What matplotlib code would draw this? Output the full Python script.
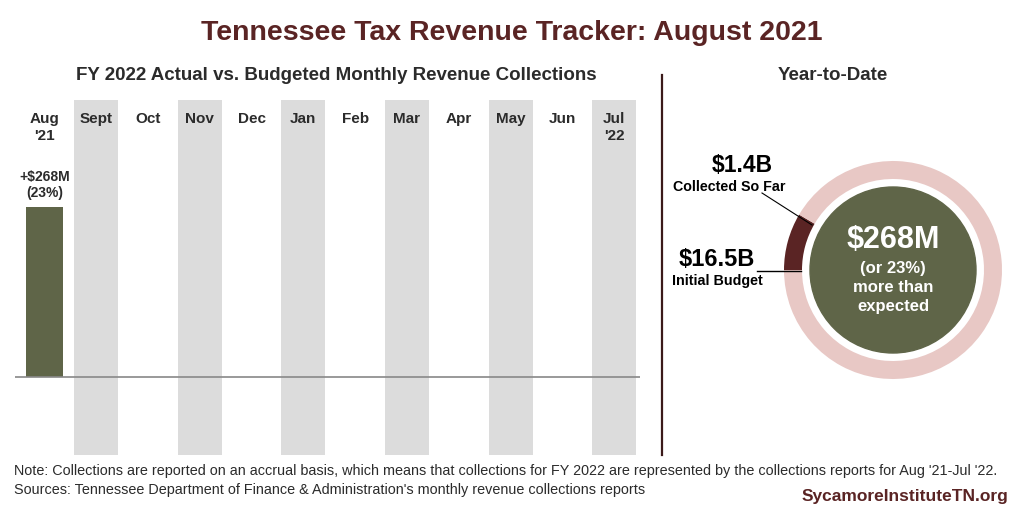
import matplotlib.pyplot as plt
import numpy as np
from matplotlib.patches import Circle

plt.rcParams['font.family'] = ['Liberation Sans', 'DejaVu Sans']

# monthly data (only August reported so far)
months = ["Aug\n'21", "Sept", "Oct", "Nov", "Dec", "Jan", "Feb", "Mar",
          "Apr", "May", "Jun", "Jul\n'22"]
pct_above_budget = [23]
bar_labels = ["+$268M\n(23%)"]

# year-to-date figures
collected = 1.4
budget = 16.5
over_amount = "$268M"
over_pct = 23

maroon = "#5a2424"
green = "#5f6548"
pink = "#e8c8c5"
band = "#dcdcdc"
dark = "#2b2b2b"

W, H = 1024, 512
fig = plt.figure(figsize=(W / 100, H / 100), dpi=100)


def fx(x):
    return x / W


def fy(y):
    return 1 - y / H


fig.text(fx(512), fy(33), "Tennessee Tax Revenue Tracker: August 2021",
         ha="center", va="center", fontsize=20.5, fontweight="bold",
         color=maroon)
fig.text(fx(336), fy(76), "FY 2022 Actual vs. Budgeted Monthly Revenue Collections",
         ha="center", va="center", fontsize=13.5, fontweight="bold",
         color=dark)
fig.text(fx(833), fy(76), "Year-to-Date", ha="center", va="center",
         fontsize=13.5, fontweight="bold", color=dark)

# divider
fig.add_artist(plt.Line2D([fx(662), fx(662)], [fy(75), fy(455)],
                          color="#3b1a1a", lw=1.6))

# ---- monthly bar chart ----
ax = fig.add_axes([fx(15), fy(455), 625 / W, 355 / H])
n = len(months)
idx = np.arange(n)
for i in idx[1::2]:
    ax.axvspan(i - 0.425, i + 0.425, color=band, lw=0, zorder=0)
ax.bar(idx[:len(pct_above_budget)], pct_above_budget, width=0.72,
       color=green, zorder=2)
ax.axhline(0, color="#888888", lw=1.2, zorder=3)
ax.set_xlim(-0.57, 11.5)
ax.set_ylim(-10.55, 37.5)
for i, m in enumerate(months):
    ax.text(i, 35.9, m, ha="center", va="top", fontsize=11,
            fontweight="bold", color=dark, linespacing=1.3)
for i, (v, lab) in enumerate(zip(pct_above_budget, bar_labels)):
    ax.text(i, v + 0.9, lab, ha="center", va="bottom", fontsize=10,
            fontweight="bold", color=dark, linespacing=1.2)
ax.axis("off")

# ---- year-to-date donut ----
cx, cy, R = 893, 270, 109
dax = fig.add_axes([fx(cx - 120), fy(cy + 120), 240 / W, 240 / H])
dax.pie([collected, budget - collected], colors=[maroon, pink],
        startangle=180, counterclock=False, radius=1,
        wedgeprops=dict(width=18 / R, linewidth=0))
dax.add_patch(Circle((0, 0), 83 / R, color=green, zorder=3))
dax.set_xlim(-120 / R, 120 / R)
dax.set_ylim(-120 / R, 120 / R)
dax.set_aspect("equal")
dax.axis("off")

# leader lines
dax.plot([(757 - cx) / R, (801 - cx) / R], [(cy - 271) / R] * 2,
         color="black", lw=1, clip_on=False, zorder=4)
dax.plot([(762 - cx) / R, (812 - cx) / R], [(cy - 193) / R, (cy - 225) / R],
         color="black", lw=0.8, clip_on=False, zorder=4)

fig.text(fx(742), fy(165), "$%.1fB" % collected, ha="center", va="center",
         fontsize=16.5, fontweight="bold", color="black")
fig.text(fx(729), fy(187), "Collected So Far", ha="center", va="center",
         fontsize=10.3, fontweight="bold", color="black")
fig.text(fx(717), fy(259), "$%.1fB" % budget, ha="center", va="center",
         fontsize=17, fontweight="bold", color="black")
fig.text(fx(717), fy(281), "Initial Budget", ha="center", va="center",
         fontsize=10.3, fontweight="bold", color="black")

fig.text(fx(cx), fy(240), over_amount, ha="center", va="center",
         fontsize=22, fontweight="bold", color="white")
fig.text(fx(cx), fy(268), "(or %d%%)" % over_pct, ha="center", va="center",
         fontsize=12, fontweight="bold", color="white")
fig.text(fx(cx), fy(287), "more than", ha="center", va="center",
         fontsize=12, fontweight="bold", color="white")
fig.text(fx(cx), fy(306), "expected", ha="center", va="center",
         fontsize=12, fontweight="bold", color="white")

# ---- footer ----
fig.text(fx(14), fy(471),
         "Note: Collections are reported on an accrual basis, which means that collections "
         "for FY 2022 are represented by the collections reports for Aug '21-Jul '22.",
         ha="left", va="center", fontsize=10.4, color=dark)
fig.text(fx(14), fy(490),
         "Sources: Tennessee Department of Finance & Administration's monthly revenue "
         "collections reports",
         ha="left", va="center", fontsize=10.4, color=dark)
fig.text(fx(1008), fy(496), "SycamoreInstituteTN.org", ha="right", va="center",
         fontsize=12.5, fontweight="bold", color=maroon)

fig.savefig("out.png", dpi=100, facecolor="white")
